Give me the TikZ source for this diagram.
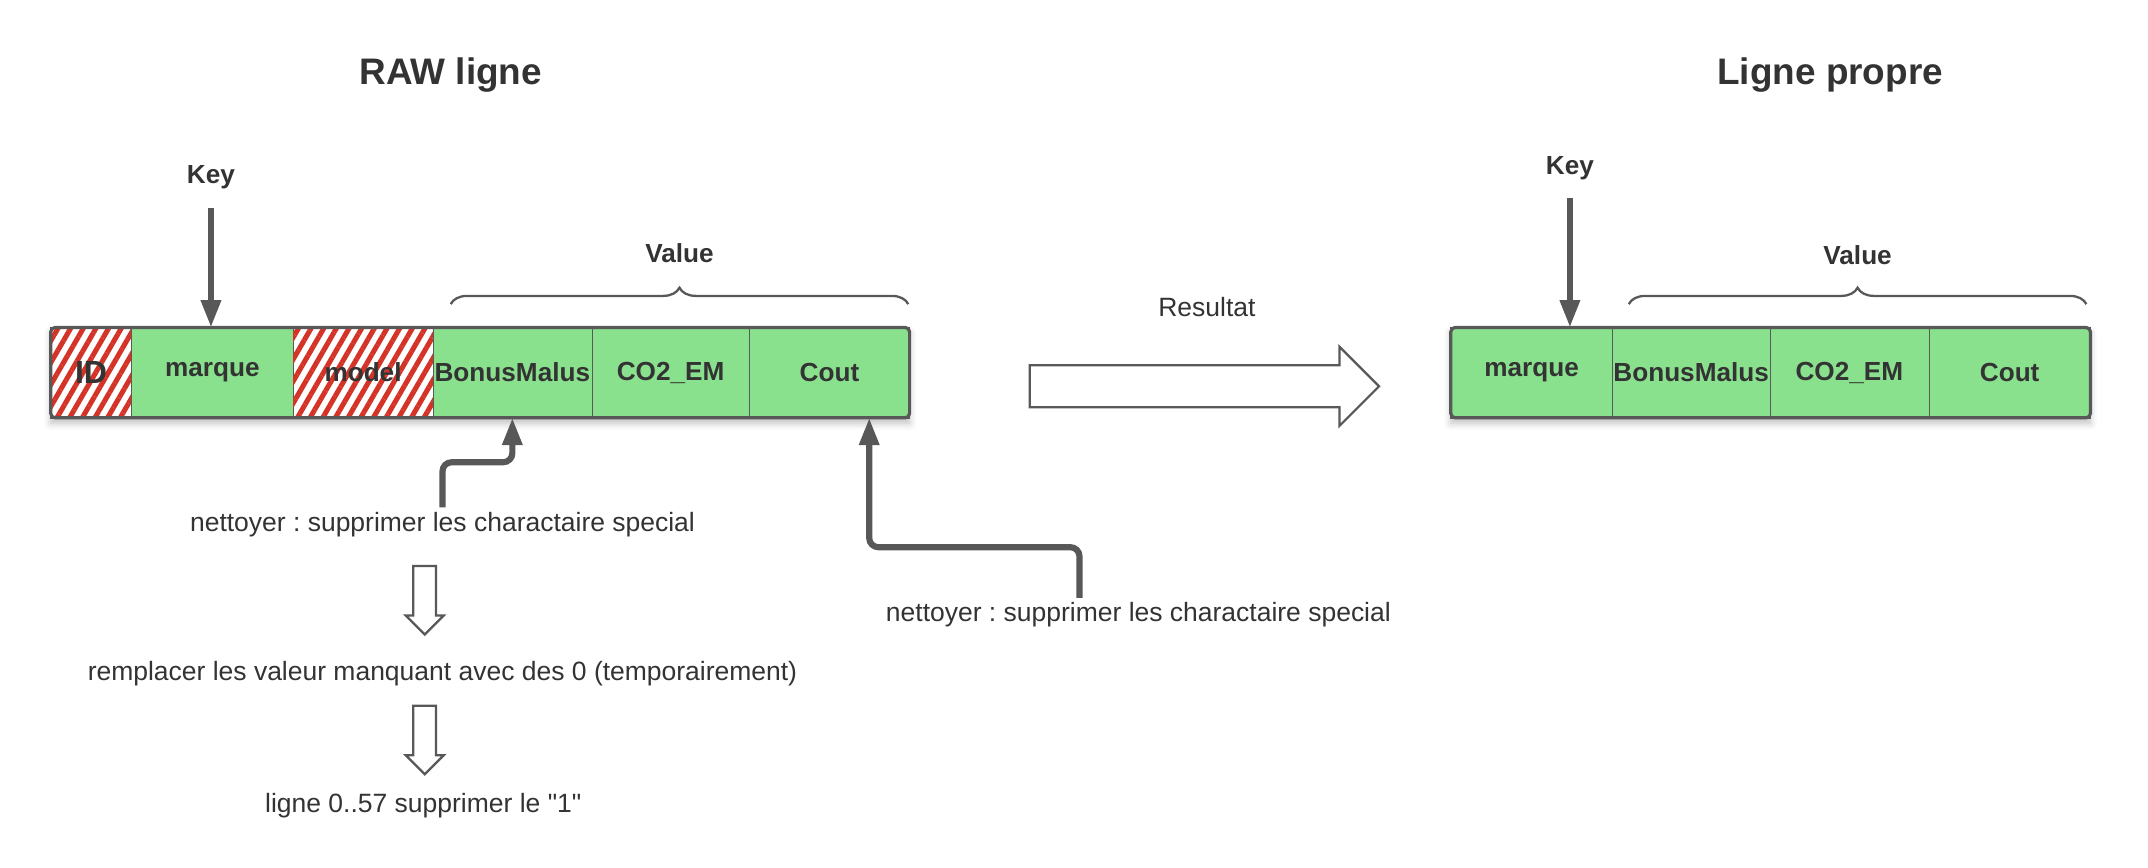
\documentclass[tikz,border=0pt]{standalone}
\usepackage{fontspec}
\setmainfont{Liberation Sans}
\usepackage{xcolor}
\usetikzlibrary{shapes, arrows.meta, positioning, calc, fit, backgrounds, patterns.meta, decorations.pathreplacing, shadows.blur}

\definecolor{cellgreen}{RGB}{137,224,141}
\definecolor{hatchred}{RGB}{212,52,40}
\definecolor{txtgray}{RGB}{51,51,51}
\definecolor{linegray}{RGB}{88,88,88}

\begin{document}
\frenchspacing
\begin{tikzpicture}[
        x=0.3mm, y=-0.3mm,
        every node/.style={text=txtgray},
        cell/.style={rectangle, draw=black!65, line width=0.3pt, fill=cellgreen, minimum height=19.8mm, inner sep=0pt, outer sep=0pt, font=\fontsize{16.3}{19}\selectfont\bfseries},
        dropped/.style={cell, fill=white, postaction={pattern={Lines[angle=60, distance=2.4mm, line width=1.1mm]}, pattern color=hatchred}},
        frame/.style={rectangle, draw=linegray, line width=0.7mm, rounded corners=1mm, inner sep=0pt},
        title/.style={font=\fontsize{23}{28}\selectfont\bfseries},
        keytxt/.style={font=\fontsize{16.3}{19}\selectfont\bfseries},
        note/.style={font=\fontsize{16.5}{20}\selectfont, inner sep=1mm},
        arrow/.style={draw=linegray, line width=1.35mm, -{Triangle[length=6mm, width=4.2mm]}},
        hollow/.style={single arrow, draw=linegray, fill=white, line width=0.5mm, inner sep=2.25mm, single arrow head extend=1.65mm, minimum height=15mm, shape border rotate=270},
        brace/.style={draw=linegray, line width=0.5mm, decorate, decoration={brace, amplitude=3.6mm}}
    ]
        \useasboundingbox (0,0) rectangle (1568,633);

        % 标题
        \node[title] (rawtitle) at (329,55) {RAW ligne};
        \node[title] (cleantitle) at (1336,55) {Ligne propre};

        % 原始行
        \node[dropped, minimum width=17.7mm, anchor=west, font=\fontsize{20}{24}\selectfont\bfseries] (id) at (37,272) {ID};
        \node[cell, minimum width=35.4mm, right=0pt of id] (marque1) {marque};
        \node[dropped, minimum width=30.6mm, right=0pt of marque1] (model) {model};
        \node[cell, minimum width=34.8mm, right=0pt of model] (bonus1) {BonusMalus};
        \node[cell, minimum width=34.5mm, right=0pt of bonus1] (co1) {CO2\_EM};
        \node[cell, minimum width=35.1mm, right=0pt of co1] (cout1) {Cout};
        \begin{pgfonlayer}{background}
            \node[fit=(id)(cout1), inner sep=0pt, fill=white, blur shadow={shadow xshift=0mm, shadow yshift=-1.2mm, shadow blur radius=1.5mm, shadow opacity=25}] {};
        \end{pgfonlayer}
        \node[frame, fit=(id)(cout1)] (rawrow) {};

        % 干净行
        \node[cell, minimum width=35.4mm, anchor=west] (marque2) at (1059,272) {marque};
        \node[cell, minimum width=34.5mm, right=0pt of marque2] (bonus2) {BonusMalus};
        \node[cell, minimum width=34.8mm, right=0pt of bonus2] (co2) {CO2\_EM};
        \node[cell, minimum width=35.4mm, right=0pt of co2] (cout2) {Cout};
        \begin{pgfonlayer}{background}
            \node[fit=(marque2)(cout2), inner sep=0pt, fill=white, blur shadow={shadow xshift=0mm, shadow yshift=-1.2mm, shadow blur radius=1.5mm, shadow opacity=25}] {};
        \end{pgfonlayer}
        \node[frame, fit=(marque2)(cout2)] (cleanrow) {};

        % Key / Value
        \node[keytxt] (key1) at (154,129) {Key};
        \draw[arrow, shorten <=3mm] (key1) -- (key1 |- marque1.north);
        \node[keytxt] (value1) at (496,185) {Value};
        \draw[brace] ($(bonus1.north west)+(13,-17)$) -- ($(cout1.north east)+(-1,-17)$);

        \node[keytxt] (key2) at (1146,123) {Key};
        \draw[arrow, shorten <=2.7mm] (key2) -- (key2 |- marque2.north);
        \node[keytxt] (value2) at (1356,186) {Value};
        \draw[brace] ($(bonus2.north west)+(12,-17)$) -- ($(cout2.north east)+(-3,-17)$);

        % 结果
        \node[note] (result) at (881,224) {Resultat};
        \node[hollow, shape border rotate=0, minimum height=76.5mm, inner sep=4.35mm, single arrow head extend=4.05mm] (resarrow) at (871.5,282) {};

        % 清洗步骤
        \node[note] (clean1) at (323,383) {nettoyer : supprimer les charactaire special};
        \draw[arrow, rounded corners=2mm] (clean1.north) -- ++(0,-33) -| (bonus1.south);
        \node[hollow] (step1) at (310,434) {};
        \node[note] (fill1) at (323,492) {remplacer les valeur manquant avec des 0 (temporairement)};
        \node[hollow] (step2) at (310,536) {};
        \node[note] (drop1) at (309,588) {ligne 0..57 supprimer le \textquotedbl 1\textquotedbl};

        \node[note] (clean2) at (831,449) {nettoyer : supprimer les charactaire special};
        \draw[arrow, rounded corners=2mm] ($(clean2.north)+(-43,0)$) -- ++(0,-37) -| ($(cout1.south)+(29,0)$);
    \end{tikzpicture}
\end{document}
